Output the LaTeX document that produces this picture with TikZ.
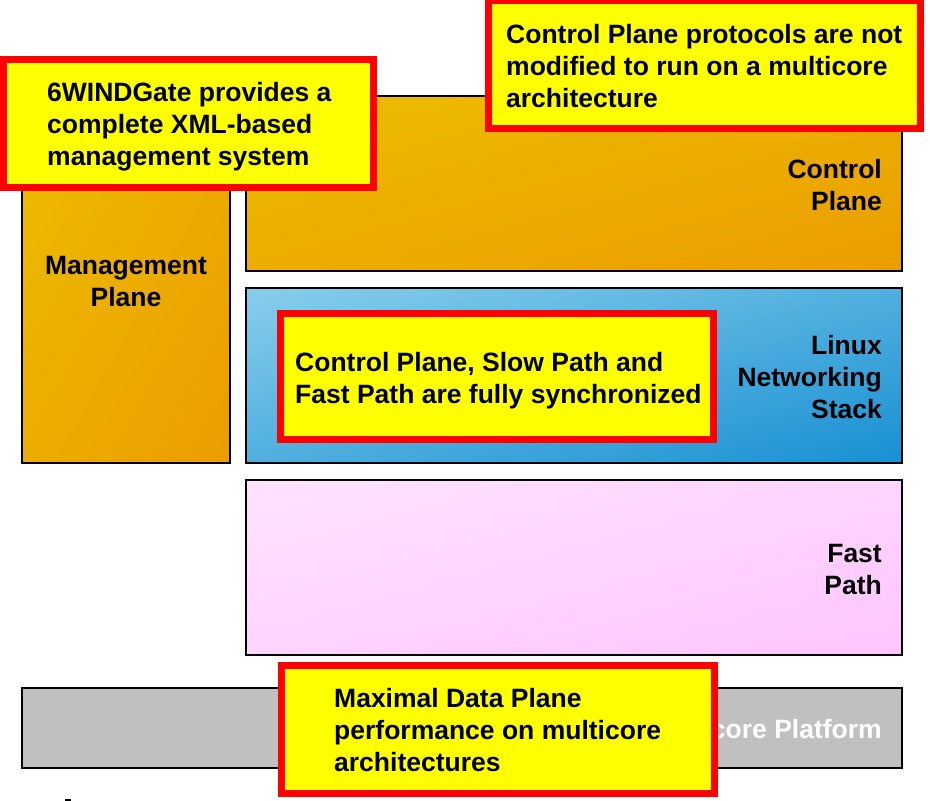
\documentclass[tikz,border=0pt]{standalone}
\usepackage{fontspec}
\setmainfont{Liberation Sans}
\usetikzlibrary{shadings}
\definecolor{orA}{HTML}{EDBD00}
\definecolor{orB}{HTML}{EB9D00}
\definecolor{orM}{HTML}{ECAD00}
\definecolor{blA}{HTML}{88CEEC}
\definecolor{blB}{HTML}{1890D2}
\definecolor{blM}{HTML}{50AFDF}
\definecolor{pkA}{HTML}{FFE3FF}
\definecolor{pkB}{HTML}{FFC5FF}
\definecolor{pkM}{HTML}{FFD4FF}
\definecolor{grayP}{HTML}{C0C0C0}
\definecolor{yel}{HTML}{FFFF00}
\definecolor{redC}{HTML}{FF0000}
\begin{document}
\begin{tikzpicture}[x=1pt,y=-1pt,
  layer/.style={draw=black, line width=2pt, anchor=north west, inner sep=0pt},
  orbox/.style={layer, shade, upper left=orA, upper right=orM, lower left=orM, lower right=orB},
  blbox/.style={layer, shade, upper left=blA, upper right=blM, lower left=blM, lower right=blB},
  pkbox/.style={layer, shade, upper left=pkA, upper right=pkM, lower left=pkM, lower right=pkB},
  callout/.style={fill=yel, draw=redC, line width=7pt, inner sep=0pt, anchor=north west},
  lbl/.style={font=\bfseries\fontsize{26.5}{32}\selectfont, inner sep=0pt, text=black}
]
\useasboundingbox (0,0) rectangle (930,801);

% layers
\node[orbox, minimum width=208pt, minimum height=367pt] (mgmt) at (21,95) {};
\node[orbox, minimum width=656pt, minimum height=175pt] (ctrl) at (245,95) {};
\node[blbox, minimum width=656pt, minimum height=175pt] (linux) at (245,287) {};
\node[pkbox, minimum width=656pt, minimum height=175pt] (fast) at (245,479) {};
\node[layer, fill=grayP, minimum width=880pt, minimum height=80pt] (plat) at (21,687) {};

% layer labels
\node[lbl, align=center] (mgmtL) at (126,281.5) {Management\\Plane};
\node[lbl, align=right, anchor=east] (ctrlL) at (882,185.5) {Control\\Plane};
\node[lbl, align=right, anchor=east] (linuxL) at (882,377.5) {Linux\\Networking\\Stack};
\node[lbl, align=right, anchor=east] (fastL) at (882,569.5) {Fast\\Path};
\node[lbl, text=white, anchor=east] (platL) at (882,729) {Multicore Platform};

% callouts
\node[callout, minimum width=370pt, minimum height=128pt] (c1) at (0,56) {};
\node[lbl, align=left, anchor=west] (c1t) at (47,126.5) {6WINDGate provides a\\complete XML-based\\management system};

\node[callout, minimum width=432pt, minimum height=128pt] (c2) at (485,-3) {};
\node[lbl, align=left, anchor=west] (c2t) at (506,66) {Control Plane protocols are not\\modified to run on a multicore\\architecture};

\node[callout, minimum width=433pt, minimum height=126pt] (c3) at (277,310) {};
\node[lbl, align=left, anchor=west] (c3t) at (295,380.5) {Control Plane, Slow Path and\\Fast Path are fully synchronized};

\node[callout, minimum width=433pt, minimum height=128pt] (c4) at (278,662) {};
\node[lbl, align=left, anchor=west] (c4t) at (334,730.5) {Maximal Data Plane\\performance on multicore\\architectures};

% small mark
\coordinate (m1) at (65,800);
\coordinate (m2) at (71,800);
\draw[line width=2pt] (m1) -- (m2);
\end{tikzpicture}
\end{document}
